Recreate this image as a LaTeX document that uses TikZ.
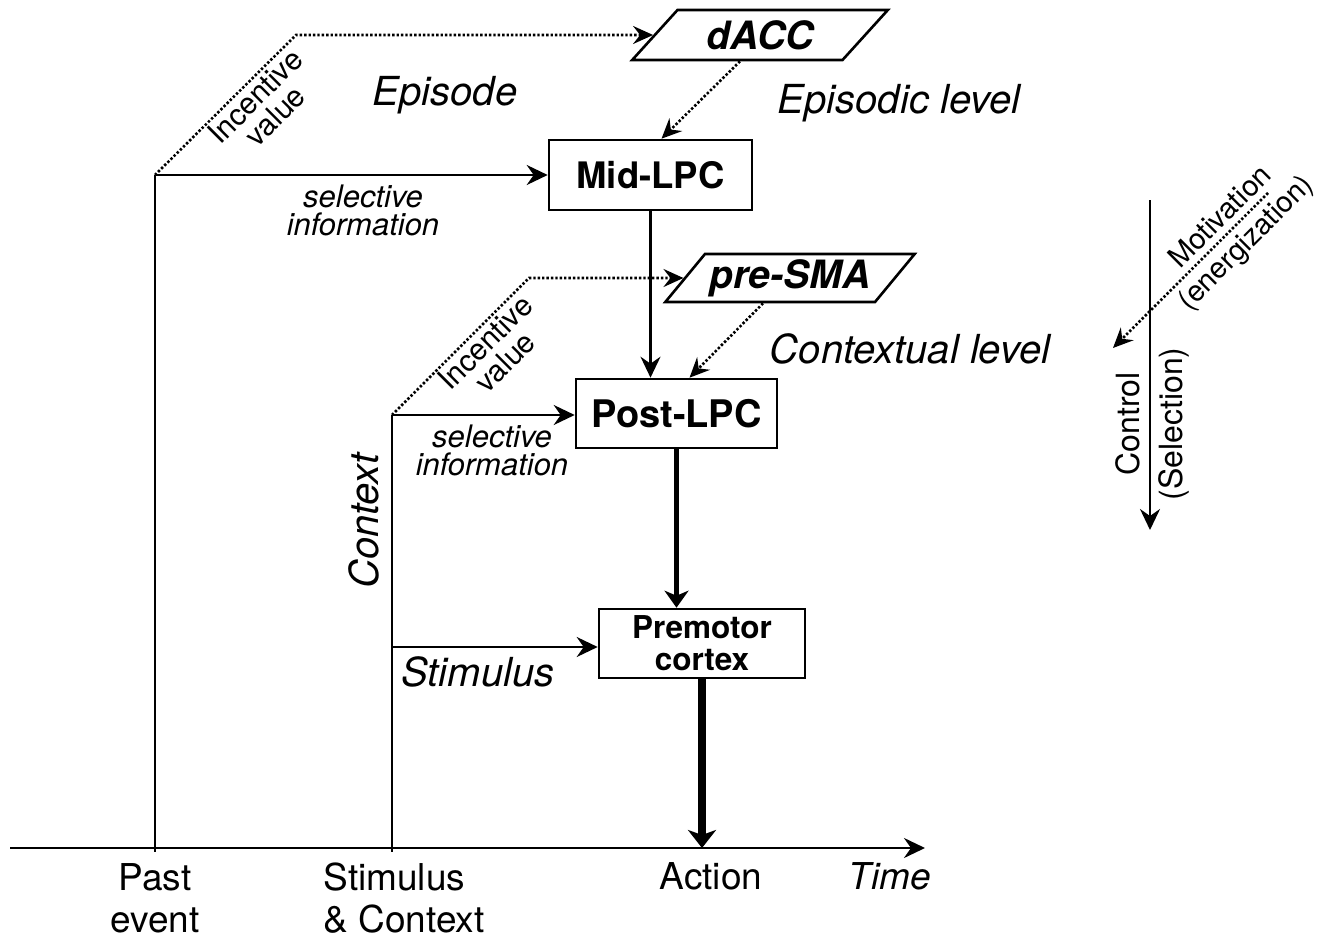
\documentclass[tikz,border=0pt]{standalone}
\usepackage{fontspec}
\setmainfont{TeX Gyre Heros}
\usetikzlibrary{arrows.meta,shapes.geometric}
\tikzset{
  thinarrow/.style={line width=2.4pt,-{Stealth[length=21pt,width=20pt,inset=7pt]}},
  midarrow/.style={line width=4.5pt,-{Stealth[length=17pt,width=24pt,inset=5pt]}},
  fatarrow/.style={line width=8pt,-{Stealth[length=18pt,width=28pt,inset=5pt]}},
  dotline/.style={line width=2.6pt,dash pattern=on 2.4pt off 2pt},
  dotarrow/.style={dotline,-{Stealth[length=20pt,width=18pt,inset=7pt]}},
  plainline/.style={line width=2.4pt},
  boxnode/.style={draw,line width=2.6pt,inner sep=0pt,align=center},
  paranode/.style={draw,line width=2.6pt,trapezium,trapezium left angle=45,
    trapezium right angle=135,trapezium stretches=true,inner sep=0pt,
    font=\fontsize{39}{40}\selectfont\bfseries\itshape},
  biglabel/.style={font=\fontsize{40}{44}\selectfont\itshape},
  smalllabel/.style={font=\fontsize{31}{28}\selectfont\itshape,align=center},
  incentlabel/.style={font=\fontsize{30}{28}\selectfont,align=center,rotate=45},
  axislabel/.style={font=\fontsize{37}{42}\selectfont},
}
\begin{document}
\begin{tikzpicture}[x=1pt,y=-1pt]
\useasboundingbox (0,0) rectangle (1317,939);

% nodes
\node[boxnode,minimum width=203,minimum height=70,font=\fontsize{36.5}{40}\selectfont\bfseries] (midlpc) at (650.5,175) {Mid-LPC};
\node[boxnode,minimum width=201,minimum height=69,font=\fontsize{38}{40}\selectfont\bfseries] (postlpc) at (676.5,413.5) {Post-LPC};
\node[boxnode,minimum width=206,minimum height=69,font=\fontsize{31.5}{32}\selectfont\bfseries] (premotor) at (702,643.5) {Premotor\\cortex};
\node[paranode,minimum width=256,minimum height=50] (dacc) at (760,35) {dACC};
\node[paranode,minimum width=250,minimum height=48] (presma) at (790,278) {pre-SMA};

% coordinates
\coordinate (pe) at (155,175);
\coordinate (pebot) at (155,852);
\coordinate (ic1) at (296,35);
\coordinate (sc) at (392,415);
\coordinate (scbot) at (392,852);
\coordinate (ic2) at (529,278);
\coordinate (sm) at (392,647);
\coordinate (tstart) at (10,848);
\coordinate (tend) at (925,848);
\coordinate (ctop) at (1150,200);
\coordinate (cbot) at (1150,530);
\coordinate (mstart) at (1268,193);
\coordinate (mend) at (1113,348);

% time axis
\draw[thinarrow,line width=2.8pt] (tstart) -- (tend);
\draw[plainline] (pe) -- (pebot);
\draw[plainline] (sc) -- (scbot);

% episodic
\draw[dotarrow] (pe) -- (ic1) -- (dacc);
\draw[thinarrow] (pe) -- (midlpc);
\draw[dotarrow] ([xshift=-20pt]dacc.south) -- ([xshift=11pt]midlpc.north);
\draw[thinarrow] (midlpc.south) -- (midlpc.south |- postlpc.north);

% contextual
\draw[dotarrow] (sc) -- (ic2) -- (presma);
\draw[thinarrow] (sc) -- (sc -| postlpc.west);
\draw[dotarrow] ([xshift=-27pt]presma.south) -- ([xshift=13pt]postlpc.north);
\draw[midarrow] (postlpc.south) -- (postlpc.south |- premotor.north);

% stimulus
\draw[thinarrow] (sm) -- (sm -| premotor.west);
\draw[fatarrow] (premotor.south) -- (premotor.south |- tend);

% right legend
\draw[thinarrow] (ctop) -- (cbot);
\draw[dotarrow] (mstart) -- (mend);

% labels
\node[incentlabel] (iv1) at (265,106) {Incentive\\value};
\node[incentlabel] (iv2) at (495,352) {Incentive\\value};
\node[biglabel] (episode) at (445,95) {Episode};
\node[biglabel] (eplevel) at (899,103) {Episodic level};
\node[biglabel] (ctxlevel) at (910,349) {Contextual level};
\node[smalllabel] (sel1) at (363,210) {selective\\information};
\node[smalllabel] (sel2) at (492,450) {selective\\information};
\node[biglabel] (stim) at (478,672) {Stimulus};
\node[biglabel,rotate=90] (ctx) at (364,521) {Context};
\node[font=\fontsize{29}{36}\selectfont,align=center,rotate=45] (motiv) at (1234,231) {Motivation\\(energization)};
\node[font=\fontsize{32}{43}\selectfont,align=center,rotate=90] (control) at (1152,424) {Control\\(Selection)};

\node[axislabel,align=center] (past) at (155,898) {Past\\event};
\node[axislabel,align=left,anchor=west] (stimctx) at (320,898) {Stimulus\\\& Context};
\node[axislabel] (action) at (711,876) {Action};
\node[axislabel,font=\fontsize{37}{42}\selectfont\itshape] (time) at (890,876) {Time};
\end{tikzpicture}
\end{document}
